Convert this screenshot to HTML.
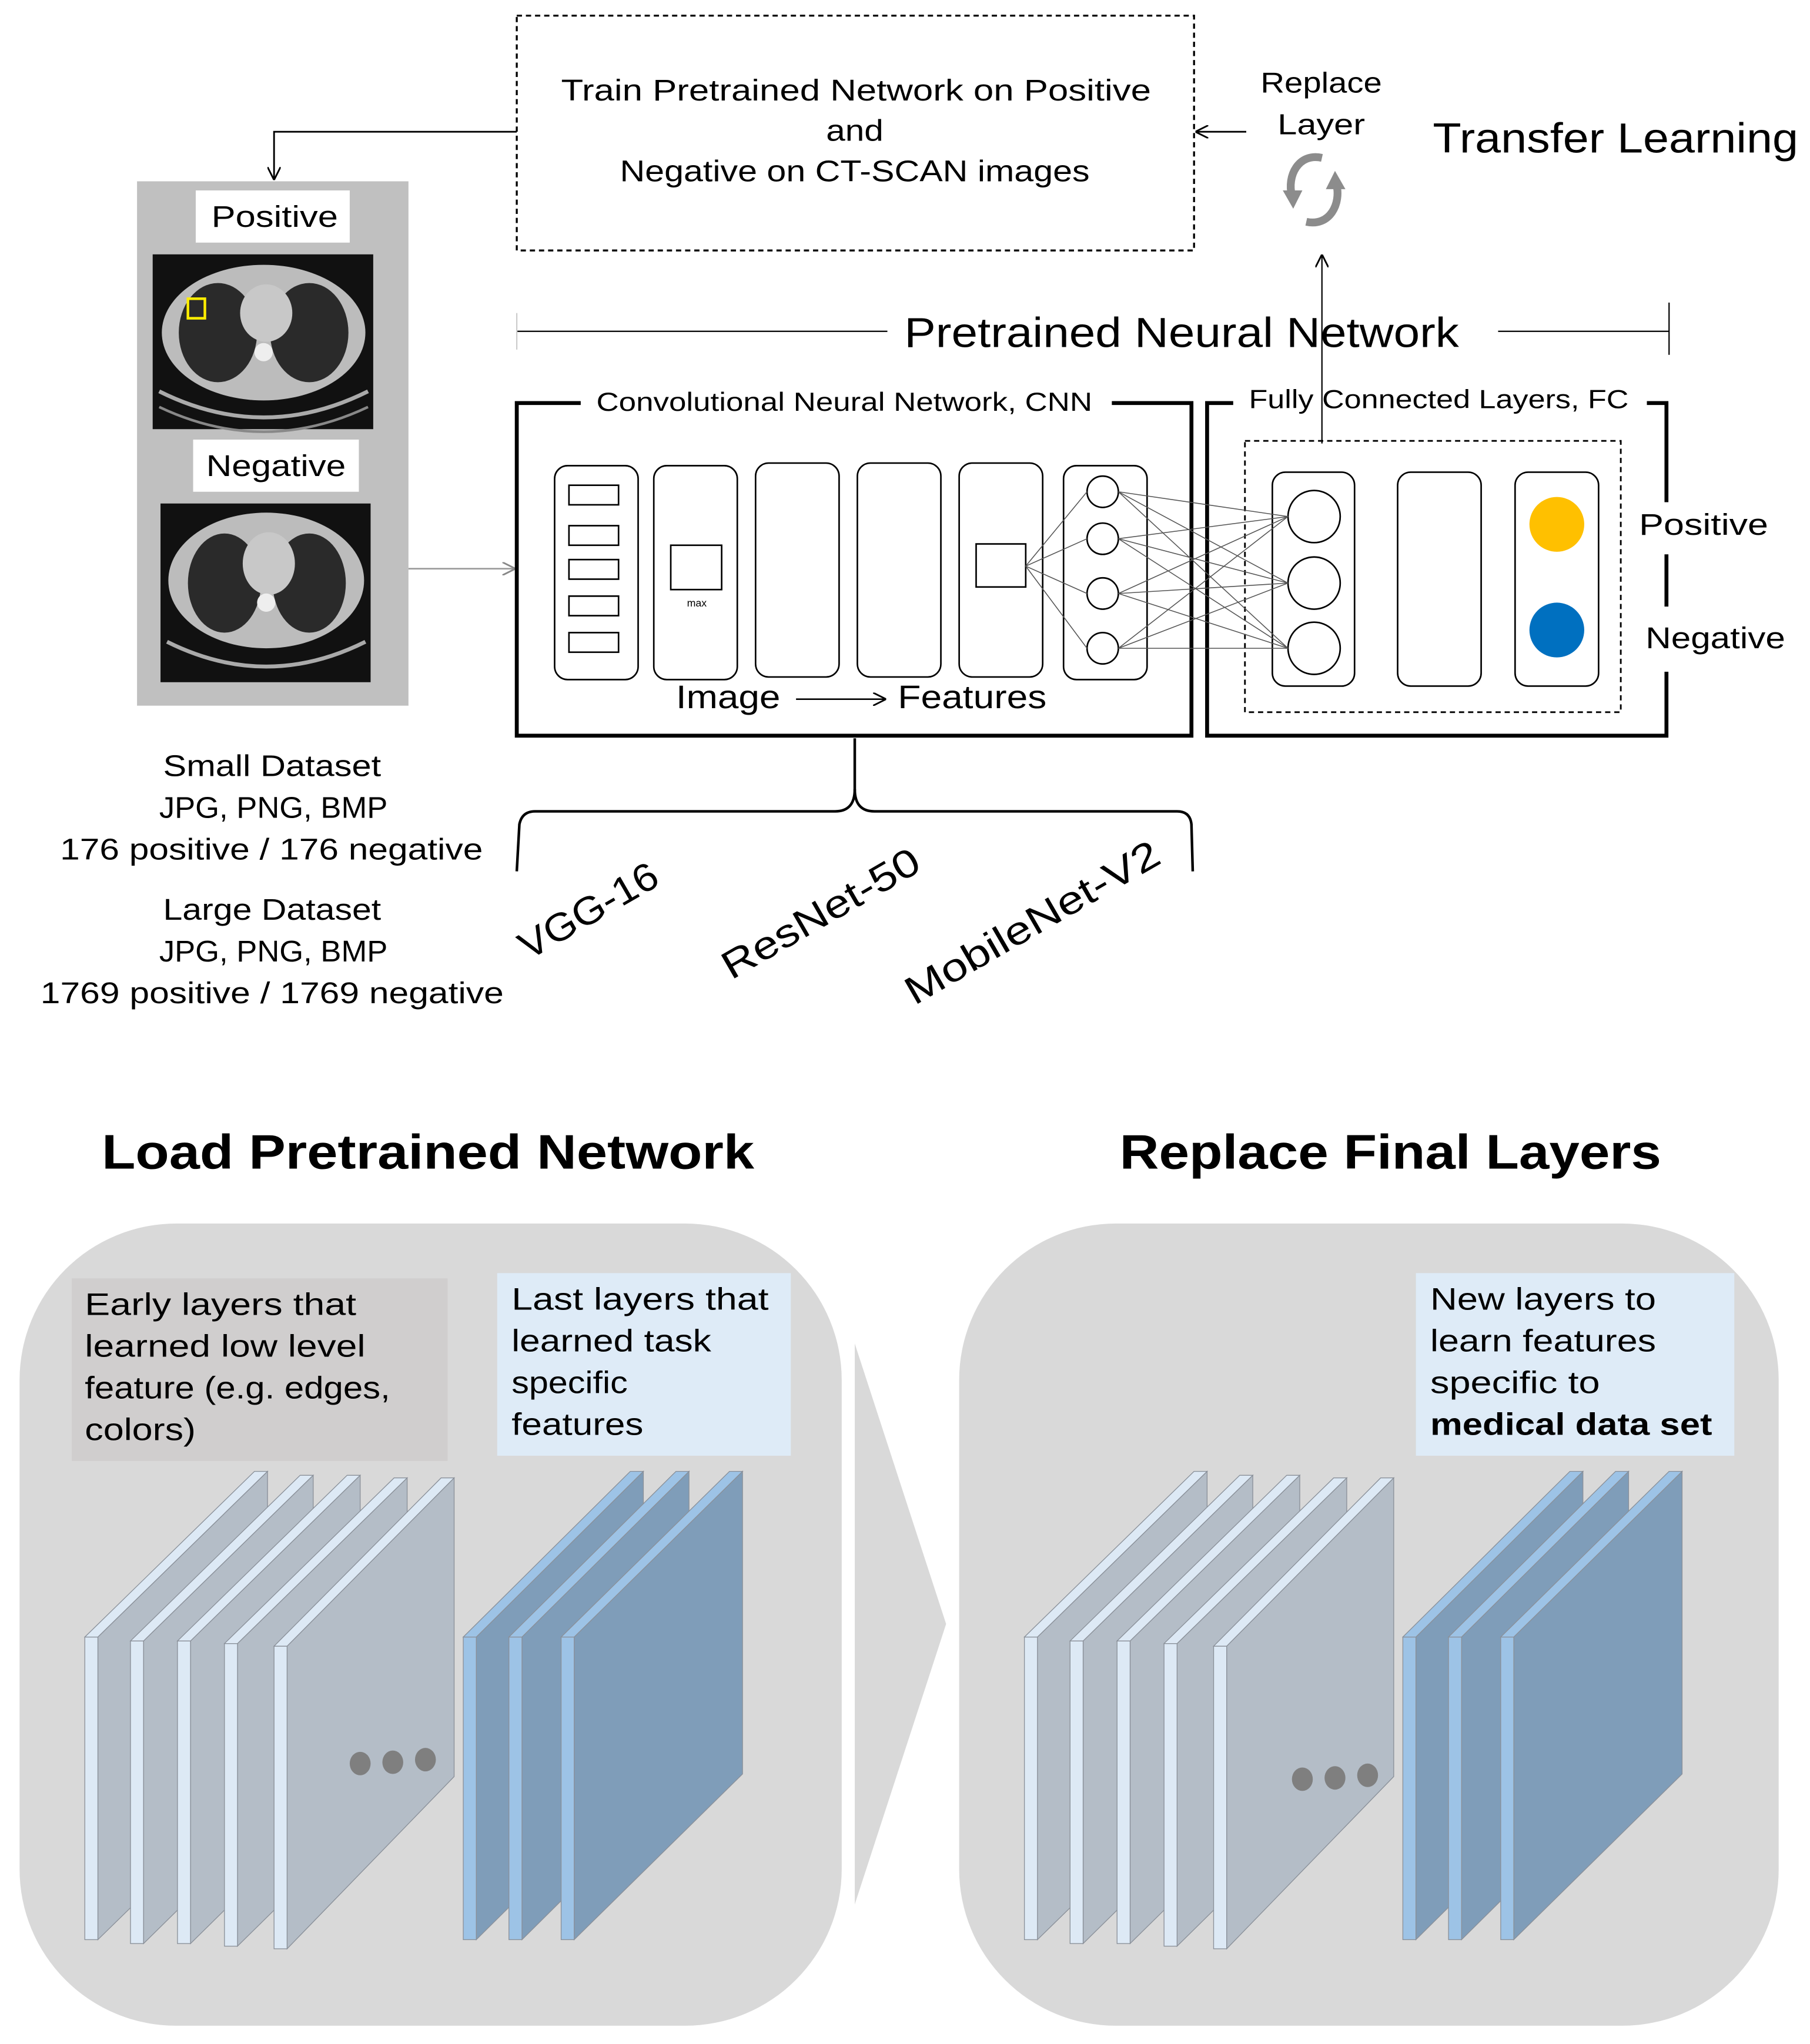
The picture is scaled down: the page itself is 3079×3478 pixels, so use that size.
<!DOCTYPE html>
<html><head><meta charset="utf-8"><style>
html,body{margin:0;padding:0;background:#fff}
svg{display:block}
text{font-family:"Liberation Sans",sans-serif;fill:#000}
</style></head><body>
<svg width="3079" height="3478" viewBox="0 0 1387 1567" preserveAspectRatio="none" xmlns="http://www.w3.org/2000/svg">
<defs>
<marker id="ah" markerWidth="10" markerHeight="10" refX="9" refY="5" orient="auto" markerUnits="userSpaceOnUse"><path d="M0,0 L10,5 L0,10" fill="none" stroke="#000" stroke-width="1.3"/></marker>
<marker id="ahg" markerWidth="10" markerHeight="10" refX="9" refY="5" orient="auto" markerUnits="userSpaceOnUse"><path d="M0,0 L10,5 L0,10" fill="none" stroke="#888" stroke-width="1.3"/></marker>
</defs>
<rect width="1387" height="1567" fill="#fff"/>

<!-- top dashed box -->
<rect x="396" y="12" width="519" height="180" fill="none" stroke="#000" stroke-width="1.5" stroke-dasharray="4,3"/>
<text x="430" y="77" font-size="23" textLength="452" lengthAdjust="spacingAndGlyphs">Train Pretrained Network on Positive</text>
<text x="633" y="108" font-size="23" textLength="44" lengthAdjust="spacingAndGlyphs">and</text>
<text x="475" y="139" font-size="23" textLength="360" lengthAdjust="spacingAndGlyphs">Negative on CT-SCAN images</text>
<polyline points="396,101 210,101 210,137" fill="none" stroke="#000" stroke-width="1.3" marker-end="url(#ah)"/>
<line x1="955" y1="101" x2="917" y2="101" stroke="#000" stroke-width="1.3" marker-end="url(#ah)"/>
<text x="966" y="71" font-size="22" textLength="93" lengthAdjust="spacingAndGlyphs">Replace</text>
<text x="979" y="103" font-size="22" textLength="67" lengthAdjust="spacingAndGlyphs">Layer</text>
<!-- cycle icon -->
<path d="M1013,121 C995,117 986,135 990,150" fill="none" stroke="#8c8c8c" stroke-width="6"/>
<path d="M983,146 L991,160 L998,146 Z" fill="#8c8c8c"/>
<path d="M1001,170 C1019,174 1028,156 1024,141" fill="none" stroke="#8c8c8c" stroke-width="6"/>
<path d="M1016,145 L1023,131 L1031,145 Z" fill="#8c8c8c"/>
<line x1="1013" y1="340" x2="1013" y2="196" stroke="#000" stroke-width="1" marker-end="url(#ah)"/>
<text x="1098" y="117" font-size="32" textLength="280" lengthAdjust="spacingAndGlyphs">Transfer Learning</text>

<!-- left image panel -->
<rect x="105" y="139" width="208" height="402" fill="#c0c0c0"/>
<rect x="150" y="146" width="118" height="40" fill="#fff"/>
<text x="162" y="174" font-size="23" textLength="97" lengthAdjust="spacingAndGlyphs">Positive</text>
<rect x="117" y="195" width="169" height="134" fill="#111"/>
<ellipse cx="202" cy="255" rx="78" ry="52" fill="#bcbcbc"/>
<ellipse cx="167" cy="255" rx="30" ry="38" fill="#2a2a2a"/>
<ellipse cx="237" cy="255" rx="30" ry="38" fill="#2a2a2a"/>
<ellipse cx="204" cy="240" rx="20" ry="22" fill="#c8c8c8"/>
<circle cx="202" cy="270" r="7" fill="#eee"/>
<path d="M122,300 Q202,340 282,300" fill="none" stroke="#aaa" stroke-width="3"/>
<path d="M122,312 Q202,350 282,312" fill="none" stroke="#888" stroke-width="2"/>
<rect x="144" y="229" width="13" height="15" fill="none" stroke="#ffee00" stroke-width="2"/>
<rect x="148" y="337" width="127" height="40" fill="#fff"/>
<text x="158" y="365" font-size="23" textLength="107" lengthAdjust="spacingAndGlyphs">Negative</text>
<rect x="123" y="386" width="161" height="137" fill="#111"/>
<ellipse cx="204" cy="445" rx="75" ry="52" fill="#bcbcbc"/>
<ellipse cx="172" cy="447" rx="28" ry="38" fill="#2a2a2a"/>
<ellipse cx="237" cy="447" rx="28" ry="38" fill="#2a2a2a"/>
<ellipse cx="206" cy="432" rx="20" ry="24" fill="#c8c8c8"/>
<circle cx="204" cy="462" r="7" fill="#eee"/>
<path d="M128,492 Q204,530 280,492" fill="none" stroke="#aaa" stroke-width="3"/>
<line x1="313" y1="436" x2="394" y2="436" stroke="#999" stroke-width="1.2" marker-end="url(#ahg)"/>

<!-- dataset text -->
<g font-size="23">
<text x="125" y="595" textLength="167" lengthAdjust="spacingAndGlyphs">Small Dataset</text>
<text x="122" y="627" textLength="175" lengthAdjust="spacingAndGlyphs">JPG, PNG, BMP</text>
<text x="46" y="659" textLength="324" lengthAdjust="spacingAndGlyphs">176 positive / 176 negative</text>
<text x="125" y="705" textLength="167" lengthAdjust="spacingAndGlyphs">Large Dataset</text>
<text x="122" y="737" textLength="175" lengthAdjust="spacingAndGlyphs">JPG, PNG, BMP</text>
<text x="31" y="769" textLength="355" lengthAdjust="spacingAndGlyphs">1769 positive / 1769 negative</text>
</g>

<!-- Pretrained Neural Network -->
<line x1="396" y1="254" x2="680" y2="254" stroke="#000" stroke-width="1"/>
<line x1="396" y1="240" x2="396" y2="268" stroke="#ccc" stroke-width="1"/>
<text x="693" y="266" font-size="32" textLength="425" lengthAdjust="spacingAndGlyphs">Pretrained Neural Network</text>
<line x1="1148" y1="254" x2="1279" y2="254" stroke="#000" stroke-width="1"/>
<line x1="1279" y1="232" x2="1279" y2="272" stroke="#000" stroke-width="1"/>

<!-- CNN box -->
<path d="M445,309 L396,309 L396,564 L913,564 L913,309 L852,309" fill="none" stroke="#000" stroke-width="3"/>
<text x="457" y="315" font-size="20" textLength="380" lengthAdjust="spacingAndGlyphs">Convolutional Neural Network, CNN</text>
<!-- FC box -->
<path d="M945,309 L925,309 L925,564 L1277,564 L1277,515" fill="none" stroke="#000" stroke-width="3"/>
<path d="M1262,309 L1277,309 L1277,385" fill="none" stroke="#000" stroke-width="3"/>
<line x1="1277" y1="425" x2="1277" y2="465" stroke="#000" stroke-width="3"/>
<text x="957" y="313" font-size="20" textLength="291" lengthAdjust="spacingAndGlyphs">Fully Connected Layers, FC</text>
<text x="1256" y="410" font-size="23" textLength="99" lengthAdjust="spacingAndGlyphs">Positive</text>
<text x="1261" y="497" font-size="23" textLength="107" lengthAdjust="spacingAndGlyphs">Negative</text>
<rect x="954" y="338" width="288" height="208" fill="none" stroke="#000" stroke-width="1.3" stroke-dasharray="4,3"/>

<!-- CNN columns -->
<g fill="none" stroke="#000" stroke-width="1.2">
<rect x="425" y="357" width="64" height="164" rx="10"/>
<rect x="501" y="357" width="64" height="164" rx="10"/>
<rect x="579" y="355" width="64" height="164" rx="10"/>
<rect x="657" y="355" width="64" height="164" rx="10"/>
<rect x="735" y="355" width="64" height="164" rx="10"/>
<rect x="815" y="357" width="64" height="164" rx="10"/>
<rect x="436" y="372" width="38" height="15"/>
<rect x="436" y="403" width="38" height="15"/>
<rect x="436" y="429" width="38" height="15"/>
<rect x="436" y="457" width="38" height="15"/>
<rect x="436" y="485" width="38" height="15"/>
<rect x="514" y="418" width="39" height="34"/>
<rect x="748" y="417" width="38" height="33"/>
<circle cx="845" cy="377" r="12"/>
<circle cx="845" cy="413" r="12"/>
<circle cx="845" cy="455" r="12"/>
<circle cx="845" cy="497" r="12"/>
<rect x="975" y="362" width="63" height="164" rx="10"/>
<rect x="1071" y="362" width="64" height="164" rx="10"/>
<rect x="1161" y="362" width="64" height="164" rx="10"/>
<circle cx="1007" cy="396" r="20"/>
<circle cx="1007" cy="447" r="20"/>
<circle cx="1007" cy="497" r="20"/>
</g>
<text x="534" y="465" font-size="8" text-anchor="middle">max</text>
<g stroke="#555" stroke-width="0.7">
<line x1="786" y1="434" x2="833" y2="377"/><line x1="786" y1="434" x2="833" y2="413"/>
<line x1="786" y1="434" x2="833" y2="455"/><line x1="786" y1="434" x2="833" y2="497"/>
<line x1="857" y1="377" x2="987" y2="396"/><line x1="857" y1="377" x2="987" y2="447"/><line x1="857" y1="377" x2="987" y2="497"/>
<line x1="857" y1="413" x2="987" y2="396"/><line x1="857" y1="413" x2="987" y2="447"/><line x1="857" y1="413" x2="987" y2="497"/>
<line x1="857" y1="455" x2="987" y2="396"/><line x1="857" y1="455" x2="987" y2="447"/><line x1="857" y1="455" x2="987" y2="497"/>
<line x1="857" y1="497" x2="987" y2="396"/><line x1="857" y1="497" x2="987" y2="447"/><line x1="857" y1="497" x2="987" y2="497"/>
</g>
<circle cx="1193" cy="402" r="21" fill="#ffc000"/>
<circle cx="1193" cy="483" r="21" fill="#0070c0"/>
<text x="518" y="543" font-size="25" textLength="80" lengthAdjust="spacingAndGlyphs">Image</text>
<line x1="610" y1="536" x2="678" y2="536" stroke="#000" stroke-width="1.2" marker-end="url(#ah)"/>
<text x="688" y="543" font-size="25" textLength="114" lengthAdjust="spacingAndGlyphs">Features</text>

<!-- brace -->
<path d="M655,566 L655,605 Q655,622 640,622 L410,622 Q400,622 398,632 L396,668" fill="none" stroke="#000" stroke-width="2"/>
<path d="M655,605 Q655,622 670,622 L902,622 Q912,622 913,632 L914,668" fill="none" stroke="#000" stroke-width="2"/>
<g font-size="30" text-anchor="middle">
<text transform="translate(456,707) rotate(-30)" textLength="118" lengthAdjust="spacingAndGlyphs">VGG-16</text>
<text transform="translate(634,709) rotate(-30)" textLength="170" lengthAdjust="spacingAndGlyphs">ResNet-50</text>
<text transform="translate(796,716) rotate(-30)" textLength="220" lengthAdjust="spacingAndGlyphs">MobileNet-V2</text>
</g>

<!-- bottom -->
<text x="78" y="896" font-size="37" font-weight="bold" textLength="500" lengthAdjust="spacingAndGlyphs">Load Pretrained Network</text>
<text x="858" y="896" font-size="37" font-weight="bold" textLength="415" lengthAdjust="spacingAndGlyphs">Replace Final Layers</text>
<rect x="15" y="938" width="630" height="615" rx="120" fill="#d9d9d9"/>
<polygon points="655,1030 725,1245 655,1460" fill="#d9d9d9"/>
<rect x="735" y="938" width="628" height="615" rx="120" fill="#d9d9d9"/>

<rect x="55" y="980" width="288" height="140" fill="#d0cece"/>
<g font-size="24">
<text x="65" y="1008" textLength="208" lengthAdjust="spacingAndGlyphs">Early layers that</text>
<text x="65" y="1040" textLength="215" lengthAdjust="spacingAndGlyphs">learned low level</text>
<text x="65" y="1072" textLength="234" lengthAdjust="spacingAndGlyphs">feature (e.g. edges,</text>
<text x="65" y="1104" textLength="85" lengthAdjust="spacingAndGlyphs">colors)</text>
</g>
<rect x="381" y="976" width="225" height="140" fill="#deebf7"/>
<g font-size="24">
<text x="392" y="1004" textLength="197" lengthAdjust="spacingAndGlyphs">Last layers that</text>
<text x="392" y="1036" textLength="153" lengthAdjust="spacingAndGlyphs">learned task</text>
<text x="392" y="1068" textLength="89" lengthAdjust="spacingAndGlyphs">specific</text>
<text x="392" y="1100" textLength="101" lengthAdjust="spacingAndGlyphs">features</text>
</g>
<rect x="1085" y="976" width="244" height="140" fill="#deebf7"/>
<g font-size="24">
<text x="1096" y="1004" textLength="173" lengthAdjust="spacingAndGlyphs">New layers to</text>
<text x="1096" y="1036" textLength="173" lengthAdjust="spacingAndGlyphs">learn features</text>
<text x="1096" y="1068" textLength="130" lengthAdjust="spacingAndGlyphs">specific to</text>
<text x="1096" y="1100" font-weight="bold" textLength="216" lengthAdjust="spacingAndGlyphs">medical data set</text>
</g>

<!-- slabs -->
<g id="slabsL" stroke="#8a9099" stroke-width="0.6">
<g fill="#b4bdc7">
<polygon points="75,1255 205,1128 205,1360 75,1487"/>
<polygon points="110,1258 240,1131 240,1362 110,1490"/>
<polygon points="146,1258 276,1131 276,1362 146,1490"/>
<polygon points="182,1260 312,1133 312,1364 182,1492"/>
<polygon points="220,1262 348,1133 348,1362 220,1494"/>
</g>
<g fill="#dde9f5">
<rect x="65" y="1255" width="10" height="232"/><polygon points="65,1255 195,1128 205,1128 75,1255"/>
<rect x="100" y="1258" width="10" height="232"/><polygon points="100,1258 230,1131 240,1131 110,1258"/>
<rect x="136" y="1258" width="10" height="232"/><polygon points="136,1258 266,1131 276,1131 146,1258"/>
<rect x="172" y="1260" width="10" height="232"/><polygon points="172,1260 302,1133 312,1133 182,1260"/>
<rect x="210" y="1262" width="10" height="232"/><polygon points="210,1262 338,1133 348,1133 220,1262"/>
</g>
<g fill="#7f9db9">
<polygon points="365,1255 493,1128 493,1360 365,1487"/>
<polygon points="400,1255 528,1128 528,1360 400,1487"/>
<polygon points="440,1255 569,1128 569,1360 440,1487"/>
</g>
<g fill="#9dc3e6">
<rect x="355" y="1255" width="10" height="232"/><polygon points="355,1255 483,1128 493,1128 365,1255"/>
<rect x="390" y="1255" width="10" height="232"/><polygon points="390,1255 518,1128 528,1128 400,1255"/>
<rect x="430" y="1255" width="10" height="232"/><polygon points="430,1255 559,1128 569,1128 440,1255"/>
</g>
</g>
<g fill="#7f7f7f"><ellipse cx="276" cy="1352" rx="8" ry="9"/><ellipse cx="301" cy="1351" rx="8" ry="9"/><ellipse cx="326" cy="1349" rx="8" ry="9"/></g>

<use href="#slabsL" x="720" y="0"/>
<g fill="#7f7f7f"><ellipse cx="998" cy="1364" rx="8" ry="9"/><ellipse cx="1023" cy="1363" rx="8" ry="9"/><ellipse cx="1048" cy="1361" rx="8" ry="9"/></g>
</svg>
</body></html>
